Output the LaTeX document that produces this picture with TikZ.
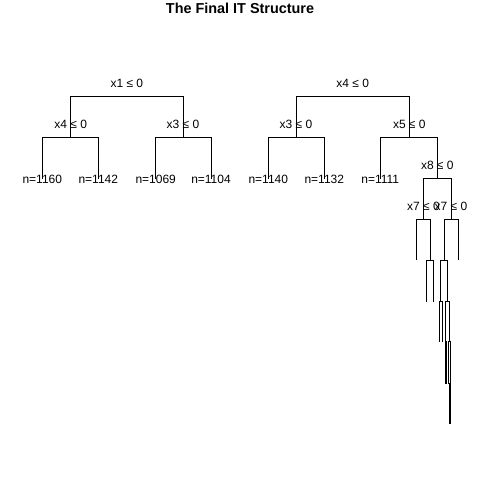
\documentclass[tikz,border=0pt]{standalone}
\usepackage{fontspec}
\setmainfont{Liberation Sans}
\begin{document}
\begin{tikzpicture}[x=1pt,y=-1pt,
  branch/.style={line width=0.9pt, line cap=rect},
  splitlab/.style={font=\fontsize{12}{14}\selectfont, inner sep=0pt, anchor=center},
  leaflab/.style={font=\fontsize{12}{14}\selectfont, inner sep=0pt, anchor=center},
  ]
\fill[white] (0,0) rectangle (480,480);
\useasboundingbox (0,0) rectangle (480,480);

\node[font=\bfseries\fontsize{14.4}{17}\selectfont, inner sep=0pt] (title) at (240,8.5) {The Final IT Structure};

% ---- left tree ----
\coordinate (a1) at (126.85,96);
\coordinate (a2) at (70.7,137);
\coordinate (a3) at (183,137);
\coordinate (a4) at (42.3,178.3);
\coordinate (a5) at (98.3,178.3);
\coordinate (a6) at (155.7,178.3);
\coordinate (a7) at (211,178.3);

% ---- right tree ----
\coordinate (b1) at (352.65,96);
\coordinate (b2) at (296,137);
\coordinate (b3) at (409.3,137);
\coordinate (b4) at (268.3,178.3);
\coordinate (b5) at (324.3,178.3);
\coordinate (b6) at (380.3,178.3);
\coordinate (b7) at (437.3,178.3);

% deep branch below x8
\coordinate (c1) at (423.5,219.3);
\coordinate (c2) at (451,219.3);
\coordinate (c3) at (416.7,260);
\coordinate (c4) at (430.3,260);
\coordinate (c5) at (444.3,260);
\coordinate (c6) at (458.3,260);
\coordinate (c7) at (426.7,301.7);
\coordinate (c8) at (433.3,301.7);
\coordinate (c9) at (440.7,301.7);
\coordinate (c10) at (447.3,301.7);
\coordinate (c11) at (439.3,341.7);
\coordinate (c12) at (442.5,341.7);
\coordinate (c13) at (445.7,341.7);
\coordinate (c14) at (449,341.7);
\coordinate (c15) at (445.1,383.3);
\coordinate (c16) at (446.4,383.3);
\coordinate (c17) at (448.4,383.3);
\coordinate (c18) at (450,383.3);
\coordinate (c19) at (449.6,423.3);
\coordinate (c20) at (450.6,423.3);

% branches: horizontal from the parent, then down to the child
\foreach \p/\c in {a1/a2,a1/a3,a2/a4,a2/a5,a3/a6,a3/a7,
                   b1/b2,b1/b3,b2/b4,b2/b5,b3/b6,b3/b7,
                   b7/c1,b7/c2,c1/c3,c1/c4,c2/c5,c2/c6,
                   c4/c7,c4/c8,c5/c9,c5/c10,c9/c11,c9/c12,c10/c13,c10/c14,
                   c13/c15,c13/c16,c14/c17,c14/c18,c18/c19,c18/c20}
  \draw[branch] (\p) -| (\c);

% split labels, set just above each split point
\node[splitlab] (s1) at ([yshift=13pt]a1) {x1 ≤ 0};
\node[splitlab] (s2) at ([yshift=13pt]a2) {x4 ≤ 0};
\node[splitlab] (s3) at ([yshift=13pt]a3) {x3 ≤ 0};
\node[splitlab] (s4) at ([yshift=13pt]b1) {x4 ≤ 0};
\node[splitlab] (s5) at ([yshift=13pt]b2) {x3 ≤ 0};
\node[splitlab] (s6) at ([yshift=13pt]b3) {x5 ≤ 0};
\node[splitlab] (s7) at ([yshift=13pt]b7) {x8 ≤ 0};
\node[splitlab] (s8) at ([yshift=13pt]c1) {x7 ≤ 0};
\node[splitlab] (s9) at ([yshift=13pt]c2) {x7 ≤ 0};

% leaf labels
\node[leaflab] (l1) at ([yshift=-1pt]a4) {n=1160};
\node[leaflab] (l2) at ([yshift=-1pt]a5) {n=1142};
\node[leaflab] (l3) at ([yshift=-1pt]a6) {n=1069};
\node[leaflab] (l4) at ([yshift=-1pt]a7) {n=1104};
\node[leaflab] (l5) at ([yshift=-1pt]b4) {n=1140};
\node[leaflab] (l6) at ([yshift=-1pt]b5) {n=1132};
\node[leaflab] (l7) at ([yshift=-1pt]b6) {n=1111};
\end{tikzpicture}
\end{document}
